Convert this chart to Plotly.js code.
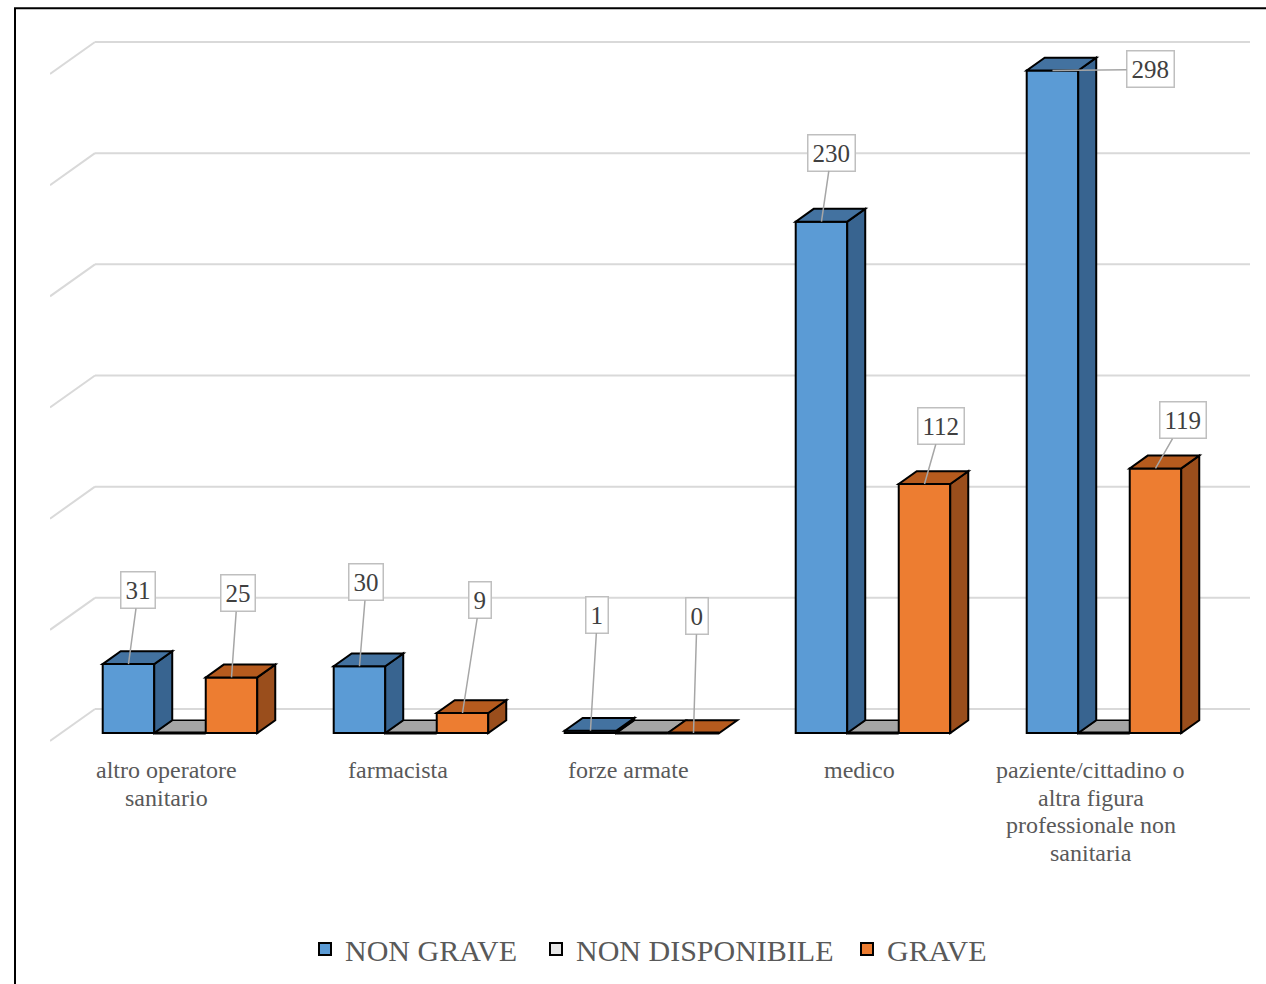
<!DOCTYPE html>
<html>
<head>
<meta charset="utf-8">
<script src="https://cdn.plot.ly/plotly-3.0.1.min.js"></script>
<style>
  html, body { margin: 0; padding: 0; background: #ffffff; }
  #chart { width: 1266px; height: 984px; }
</style>
</head>
<body>
<div id="chart"></div>
<script>
// ---------------- DATA ----------------
const CATEGORIES = [
  'altro operatore\nsanitario',
  'farmacista',
  'forze armate',
  'medico',
  'paziente/cittadino o\naltra figura\nprofessionale non\nsanitaria'
];
const SERIES_NAMES = ['NON GRAVE', 'NON DISPONIBILE', 'GRAVE'];
const NON_GRAVE = [31, 30, 1, 230, 298];
const NON_DISPONIBILE = [0, 0, 0, 0, 0];
const GRAVE = [25, 9, 0, 112, 119];
const GRID_STEP = 50;
const GRID_MAX = 300;

// ---------------- STYLE / LAYOUT CONFIG ----------------
const FONT = 'Liberation Serif, Times New Roman, serif';
const FRONT = ['#5b9bd5', '#e6e6e6', '#ed7d31'];
const TOP = ['#4372a0', '#a5a5a5', '#b65b1e'];
const SIDE = ['#386490', '#8c8c8c', '#9a4e1c'];
const SERIES = [NON_GRAVE, NON_DISPONIBILE, GRAVE];
// label callout offsets (px) for the value boxes
const LABEL_OFF = [
  { ax: [10, 7, 7, 10, 98], ay: [-74, -84, -116, -69, -1] },
  null,
  { ax: [6, 17.5, 3.5, 16.5, 27.5], ay: [-84, -113, -117, -58, -48] }
];
// legend left edges (px) for each series
const LEGEND_LEFT_PX = [305, 536, 847];
const LEGEND_Y_PX = 949;

const W = 1266, H = 984;
const M = { l: 50, r: 16, t: 36, b: 239, autoexpand: false };
const PX_X = 231;            // px per category
const PX_Y = 667 / 300;      // px per unit value
const WALL_DX = 45, WALL_DY = 32;  // 3D depth of the floor/wall in px
const Z0 = 0.25, ZD = 0.4;   // bar front depth and bar depth (fraction of wall)
const BAR_W = 0.223;
const GROUP_SHIFT = 0.014;
const dxU = z => z * WALL_DX / PX_X;
const dyU = z => z * WALL_DY / PX_Y;

const plotW = W - M.l - M.r, plotH = H - M.t - M.b;
const Y0PX = 741;  // pixel row of value 0 at depth 0
const yMin = (Y0PX - (H - M.b)) / PX_Y;
const yMax = (Y0PX - M.t) / PX_Y;
const pxToPaperY = py => (H - M.b - py) / plotH;
const pxToPaperX = px => (px - M.l) / plotW;

const nCat = CATEGORIES.length;
const xMin = -0.5, xMax = -0.5 + plotW / PX_X;

const shapesBelow = [];
const shapesAbove = [];

// back wall gridlines + left wall diagonals
for (let g = 0; g <= GRID_MAX; g += GRID_STEP) {
  shapesBelow.push({
    type: 'line', xref: 'x', yref: 'y', layer: 'below',
    x0: -0.5 + dxU(1), x1: nCat - 0.5 + dxU(1), y0: g + dyU(1), y1: g + dyU(1),
    line: { color: '#d9d9d9', width: 2 }
  });
  shapesBelow.push({
    type: 'line', xref: 'x', yref: 'y', layer: 'below',
    x0: -0.5, x1: -0.5 + dxU(1), y0: g, y1: g + dyU(1),
    line: { color: '#d9d9d9', width: 2 }
  });
}

const traces = [];
const annotations = [];
const legendNames = ['legend', 'legend2', 'legend3'];

function pathOf(pts) {
  return 'M' + pts.map(p => p[0] + ',' + p[1]).join('L') + 'Z';
}

SERIES.forEach((vals, s) => {
  const off = (s - 1) * BAR_W + GROUP_SHIFT;
  const xs = vals.map((v, i) => i + off + dxU(Z0));
  const base = dyU(Z0);
  traces.push({
    type: 'bar', name: SERIES_NAMES[s], legend: legendNames[s],
    x: xs, y: vals, base: vals.map(() => base),
    width: vals.map(() => BAR_W),
    marker: { color: FRONT[s], line: { color: '#000000', width: 2 } },
    hoverinfo: 'skip', cliponaxis: false
  });
  vals.forEach((v, i) => {
    const x0 = xs[i] - BAR_W / 2, x1 = xs[i] + BAR_W / 2;
    const yb = base, yt = v + base;
    const ddx = dxU(ZD), ddy = dyU(ZD);
    const top = pathOf([[x0, yt], [x1, yt], [x1 + ddx, yt + ddy], [x0 + ddx, yt + ddy]]);
    const side = pathOf([[x1, yb], [x1, yt], [x1 + ddx, yt + ddy], [x1 + ddx, yb + ddy]]);
    const target = (s === 1) ? shapesBelow : shapesAbove;
    const layer = (s === 1) ? 'below' : 'above';
    if (v > 0) {
      target.push({ type: 'path', xref: 'x', yref: 'y', layer: layer, path: side,
        fillcolor: SIDE[s], line: { color: '#000000', width: 2 } });
    }
    target.push({ type: 'path', xref: 'x', yref: 'y', layer: layer, path: top,
      fillcolor: TOP[s], line: { color: '#000000', width: s === 1 ? 1.5 : 2 } });
    if (v === 0) {
      target.push({ type: 'line', xref: 'x', yref: 'y', layer: layer,
        x0: x0, x1: x1, y0: yb, y1: yb, line: { color: '#000000', width: 3 } });
    }
    if (LABEL_OFF[s]) {
      annotations.push({
        xref: 'x', yref: 'y', x: xs[i], y: yt,
        text: String(v), showarrow: true, arrowhead: 0, arrowwidth: 1.5,
        arrowcolor: '#a6a6a6', ax: LABEL_OFF[s].ax[i], ay: LABEL_OFF[s].ay[i],
        bgcolor: '#ffffff', bordercolor: '#bfbfbf', borderwidth: 1.5, borderpad: 4,
        font: { family: FONT, size: 25, color: '#404040' }
      });
    }
  });
});

// category labels (one annotation per line for Excel-like line spacing)
CATEGORIES.forEach((c, i) => {
  c.split('\n').forEach((line, j) => {
    annotations.push({
      xref: 'x', yref: 'paper', x: i + 0.006, y: pxToPaperY(770 + j * 27.7),
      text: line, showarrow: false, xanchor: 'center', yanchor: 'middle',
      font: { family: FONT, size: 24, color: '#595959' }
    });
  });
});

// outer frame
shapesBelow.push({
  type: 'rect', xref: 'paper', yref: 'paper', layer: 'below',
  x0: pxToPaperX(15), x1: pxToPaperX(W + 20),
  y0: pxToPaperY(8.2), y1: pxToPaperY(H + 30),
  line: { color: '#000000', width: 2 }, fillcolor: 'rgba(0,0,0,0)'
});

const layout = {
  width: W, height: H,
  margin: M,
  paper_bgcolor: '#ffffff', plot_bgcolor: 'rgba(0,0,0,0)',
  barmode: 'overlay',
  showlegend: true,
  xaxis: { range: [xMin, xMax], showgrid: false, zeroline: false, showline: false,
           showticklabels: false, ticks: '', fixedrange: true, automargin: false },
  yaxis: { range: [yMin, yMax], showgrid: false, zeroline: false, showline: false,
           showticklabels: false, ticks: '', fixedrange: true, automargin: false },
  shapes: shapesBelow.concat(shapesAbove),
  annotations: annotations,
  font: { family: FONT }
};
legendNames.forEach((ln, s) => {
  layout[ln] = {
    orientation: 'h', x: pxToPaperX(LEGEND_LEFT_PX[s]), xanchor: 'left',
    y: pxToPaperY(LEGEND_Y_PX), yanchor: 'middle',
    bgcolor: 'rgba(0,0,0,0)',
    font: { family: FONT, size: 30, color: '#595959' },
    itemclick: false, itemdoubleclick: false
  };
});

Plotly.newPlot('chart', traces, layout, { staticPlot: true, displayModeBar: false });
</script>
</body>
</html>
